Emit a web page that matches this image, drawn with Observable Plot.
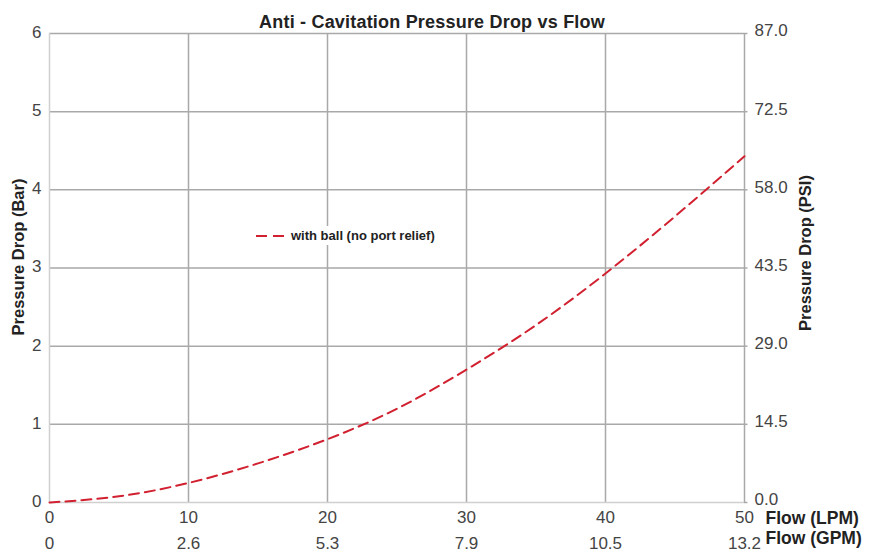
<!DOCTYPE html>
<html>
<head>
<meta charset="utf-8">
<script src="https://cdn.jsdelivr.net/npm/d3@7"></script>
<script src="https://cdn.jsdelivr.net/npm/@observablehq/plot@0.6"></script>
<style>
  html, body { margin: 0; padding: 0; background: white; }
  #wrap { position: relative; width: 880px; height: 559px; }
  #legend { position: absolute; left: 253px; top: 226px; background: white; padding: 2px 3px;
    font-family: "Liberation Sans", Arial, sans-serif; font-weight: bold; font-size: 13px; color: #222;
    display: flex; align-items: center; gap: 5px; }
  .title text { letter-spacing: 0.2px; }
</style>
</head>
<body>
<div id="wrap"></div>
<script>
const title = "Anti - Cavitation Pressure Drop vs Flow";
const yLabelLeft = "Pressure Drop (Bar)";
const yLabelRight = "Pressure Drop (PSI)";
const xLabelLPM = "Flow (LPM)";
const xLabelGPM = "Flow (GPM)";
const seriesName = "with ball (no port relief)";

const xTicks = [0, 10, 20, 30, 40, 50];
const gpmLabels = ["0", "2.6", "5.3", "7.9", "10.5", "13.2"];
const yTicks = [0, 1, 2, 3, 4, 5, 6];
const psiLabels = ["0.0", "14.5", "29.0", "43.5", "58.0", "72.5", "87.0"];

const flowLPM = [0, 5, 10, 15, 20, 25, 30, 35, 40, 45, 50];
const dropBar = [0, 0.08, 0.25, 0.5, 0.81, 1.2, 1.7, 2.27, 2.93, 3.66, 4.43];

const series = flowLPM.map((x, i) => ({x, y: dropBar[i]}));
const gpmRows = xTicks.map((x, i) => ({x, label: gpmLabels[i]}));

const red = "#d1202f";
const grid = "#a9a9a9";
const edge = "#d0d0d0";
const font = "Liberation Sans, Arial, sans-serif";

const chart = Plot.plot({
  width: 880, height: 559,
  marginLeft: 49, marginRight: 136, marginTop: 33, marginBottom: 57,
  x: {domain: [0, 50]},
  y: {domain: [0, 6]},
  style: {fontFamily: font, fontSize: "17px", color: "#444", background: "white"},
  marks: [
    Plot.ruleX(xTicks.filter(d => d > 0), {stroke: grid, strokeWidth: 1.5}),
    Plot.ruleY(yTicks.filter(d => d > 0), {stroke: grid, strokeWidth: 1.5}),
    Plot.ruleX([0], {stroke: edge, strokeWidth: 1.5}),
    Plot.ruleY([0], {stroke: edge, strokeWidth: 1.5}),
    Plot.ruleY(yTicks, {x1: 50, x2: 50.25, stroke: grid, strokeWidth: 1.5}),
    Plot.axisY({ticks: yTicks, tickSize: 0, tickPadding: 8, label: null, tickFormat: d => String(d), fill: "#444", dy: -1}),
    Plot.axisY({anchor: "right", ticks: yTicks, tickSize: 0, tickPadding: 10, label: null,
      tickFormat: d => psiLabels[yTicks.indexOf(d)], fill: "#444", dy: -2.5}),
    Plot.axisX({ticks: xTicks, tickSize: 0, tickPadding: 8, label: null, tickFormat: d => String(d), fill: "#444"}),
    Plot.text(gpmRows, {x: "x", text: "label", frameAnchor: "bottom", dy: 46, fill: "#444", fontSize: 17}),
    Plot.text([xLabelLPM], {frameAnchor: "bottom-right", textAnchor: "start", dx: 21, dy: 21,
      fontWeight: "bold", fontSize: 17.5, fill: "#222"}),
    Plot.text([xLabelGPM], {frameAnchor: "bottom-right", textAnchor: "start", dx: 21, dy: 41,
      fontWeight: "bold", fontSize: 17.5, fill: "#222"}),
    Plot.text([title], {frameAnchor: "top", textAnchor: "middle", dx: 35, dy: -18,
      fontWeight: "bold", fontSize: 18, fill: "#222", className: "title"}),
    Plot.text([yLabelLeft], {frameAnchor: "left", textAnchor: "middle", rotate: -90, dx: -31, dy: -11,
      fontWeight: "bold", fontSize: 16.5, fill: "#222"}),
    Plot.text([yLabelRight], {frameAnchor: "right", textAnchor: "middle", rotate: -90, dx: 61, dy: -15,
      fontWeight: "bold", fontSize: 16.5, fill: "#222"}),
    Plot.line(series, {x: "x", y: "y", curve: "natural", stroke: red, strokeWidth: 2, strokeDasharray: "10,6"})
  ]
});

const wrap = document.getElementById("wrap");
wrap.appendChild(chart);

const legend = document.createElement("div");
legend.id = "legend";
legend.innerHTML = `<svg width="30" height="6"><line x1="0" y1="3" x2="30" y2="3" stroke="${red}" stroke-width="2" stroke-dasharray="11,6"></line></svg><span></span>`;
legend.querySelector("span").textContent = seriesName;
wrap.appendChild(legend);
</script>
</body>
</html>
